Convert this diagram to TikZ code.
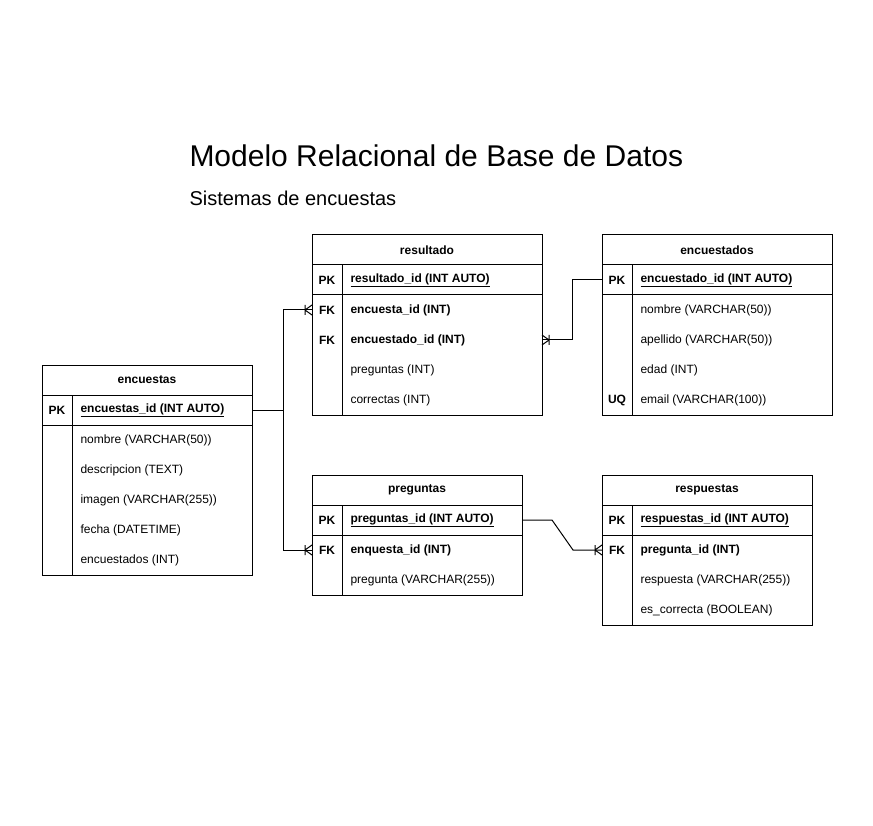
\documentclass[tikz,border=0pt]{standalone}
\usepackage{fontspec}
\setmainfont{Liberation Sans}
\usetikzlibrary{positioning}
\begin{document}
\begin{tikzpicture}[x=1pt, y=-1pt, line width=1pt,
    hdr/.style={draw, minimum height=30, inner sep=0, outer sep=0, font=\bfseries\fontsize{12}{14}\selectfont},
    cell/.style={minimum height=30, inner sep=0, outer sep=0},
    key/.style={font=\bfseries\fontsize{12}{14}\selectfont, inner sep=0},
    fld/.style={anchor=west, inner sep=0, font=\fontsize{12}{14}\selectfont},
    link/.style={line width=1pt},
    crowfoot/.style={line width=1pt}]
\useasboundingbox (0,0) rectangle (873,826);
\node[anchor=base west, inner sep=0, font=\fontsize{30}{36}\selectfont] (titulo) at (189,167) {Modelo Relacional de Base de Datos};
\node[anchor=base west, inner sep=0, font=\fontsize{20}{24}\selectfont] (subtitulo) at (189,206) {Sistemas de encuestas};

% encuestas
\node[hdr, minimum width=210] (encuestas) at (147,380) {encuestas};
\node[cell, draw, minimum width=210, below=0pt of encuestas] (encuestas-pk) {};
\node[key] at ([xshift=15]encuestas-pk.west) {PK};
\node[fld, font=\bfseries\fontsize{12}{14}\selectfont] at ([xshift=38]encuestas-pk.west) {\underline{encuestas\_id (INT AUTO)}};
\foreach \f [count=\i] in {nombre (VARCHAR(50)), descripcion (TEXT), imagen (VARCHAR(255)), fecha (DATETIME), encuestados (INT)}
    \node[fld] (encuestas-\i) at (80,410+30*\i) {\f};
\draw (encuestas-pk.south west) rectangle ++(210,150);
\draw ([xshift=30]encuestas-pk.north west) -- ++(0,180);

% resultado
\node[hdr, minimum width=230] (resultado) at (427,250) {resultado};
\node[cell, draw, minimum width=230, below=0pt of resultado] (resultado-pk) {};
\node[key] at ([xshift=15]resultado-pk.west) {PK};
\node[fld, font=\bfseries\fontsize{12}{14}\selectfont] at ([xshift=38]resultado-pk.west) {\underline{resultado\_id (INT AUTO)}};
\node[cell, minimum width=230, below=0pt of resultado-pk] (resultado-fk1) {};
\node[cell, minimum width=230, below=0pt of resultado-fk1] (resultado-fk2) {};
\node[key] at ([xshift=15]resultado-fk1.west) {FK};
\node[fld, font=\bfseries\fontsize{12}{14}\selectfont] at ([xshift=38]resultado-fk1.west) {encuesta\_id (INT)};
\node[key] at ([xshift=15]resultado-fk2.west) {FK};
\node[fld, font=\bfseries\fontsize{12}{14}\selectfont] at ([xshift=38]resultado-fk2.west) {encuestado\_id (INT)};
\foreach \f [count=\i from 3] in {preguntas (INT), correctas (INT)}
    \node[fld] (resultado-\i) at (350,280+30*\i) {\f};
\draw (resultado-pk.south west) rectangle ++(230,120);
\draw ([xshift=30]resultado-pk.north west) -- ++(0,150);

% encuestados
\node[hdr, minimum width=230] (encuestados) at (717,250) {encuestados};
\node[cell, draw, minimum width=230, below=0pt of encuestados] (encuestados-pk) {};
\node[key] at ([xshift=15]encuestados-pk.west) {PK};
\node[fld, font=\bfseries\fontsize{12}{14}\selectfont] at ([xshift=38]encuestados-pk.west) {\underline{encuestado\_id (INT AUTO)}};
\foreach \f [count=\i] in {nombre (VARCHAR(50)), apellido (VARCHAR(50)), edad (INT), email (VARCHAR(100))}
    \node[fld] (encuestados-\i) at (640,280+30*\i) {\f};
\node[key] at (617,400) {UQ};
\draw (encuestados-pk.south west) rectangle ++(230,120);
\draw ([xshift=30]encuestados-pk.north west) -- ++(0,150);

% preguntas
\node[hdr, minimum width=210] (preguntas) at (417,490) {preguntas};
\node[cell, draw, minimum width=210, below=0pt of preguntas] (preguntas-pk) {};
\node[key] at ([xshift=15]preguntas-pk.west) {PK};
\node[fld, font=\bfseries\fontsize{12}{14}\selectfont] at ([xshift=38]preguntas-pk.west) {\underline{preguntas\_id (INT AUTO)}};
\node[cell, minimum width=210, below=0pt of preguntas-pk] (preguntas-fk1) {};
\node[key] at ([xshift=15]preguntas-fk1.west) {FK};
\node[fld, font=\bfseries\fontsize{12}{14}\selectfont] at ([xshift=38]preguntas-fk1.west) {enquesta\_id (INT)};
\node[fld] (preguntas-2) at (350,580) {pregunta (VARCHAR(255))};
\draw (preguntas-pk.south west) rectangle ++(210,60);
\draw ([xshift=30]preguntas-pk.north west) -- ++(0,90);

% respuestas
\node[hdr, minimum width=210] (respuestas) at (707,490) {respuestas};
\node[cell, draw, minimum width=210, below=0pt of respuestas] (respuestas-pk) {};
\node[key] at ([xshift=15]respuestas-pk.west) {PK};
\node[fld, font=\bfseries\fontsize{12}{14}\selectfont] at ([xshift=38]respuestas-pk.west) {\underline{respuestas\_id (INT AUTO)}};
\node[cell, minimum width=210, below=0pt of respuestas-pk] (respuestas-fk1) {};
\node[key] at ([xshift=15]respuestas-fk1.west) {FK};
\node[fld, font=\bfseries\fontsize{12}{14}\selectfont] at ([xshift=38]respuestas-fk1.west) {pregunta\_id (INT)};
\foreach \f [count=\i from 2] in {respuesta (VARCHAR(255)), es\_correcta (BOOLEAN)}
    \node[fld] (respuestas-\i) at (640,520+30*\i) {\f};
\draw (respuestas-pk.south west) rectangle ++(210,90);
\draw ([xshift=30]respuestas-pk.north west) -- ++(0,120);

% relaciones
\draw[link] (encuestas-pk.east) -- ++(31,0) |- (resultado-fk1.west);
\draw[link] (encuestas-pk.east) -- ++(31,0) |- (preguntas-fk1.west);
\draw[link] (encuestados-pk.west) -- ++(-30,0) |- (resultado-fk2.east);
\draw[link] (preguntas-pk.east) -- ++(30,0) -- ([xshift=-29]respuestas-fk1.west) -- (respuestas-fk1.west);

% pies de cuervo
\foreach \n/\d in {resultado-fk1.west/1, preguntas-fk1.west/1, respuestas-fk1.west/1, resultado-fk2.east/-1}
    \draw[crowfoot] ([xshift=-\d*7]\n) ++(0,-5) -- ++(0,10)
        ([xshift=-\d*7]\n) -- ([yshift=-5]\n)
        ([xshift=-\d*7]\n) -- ([yshift=5]\n);
\end{tikzpicture}
\end{document}
